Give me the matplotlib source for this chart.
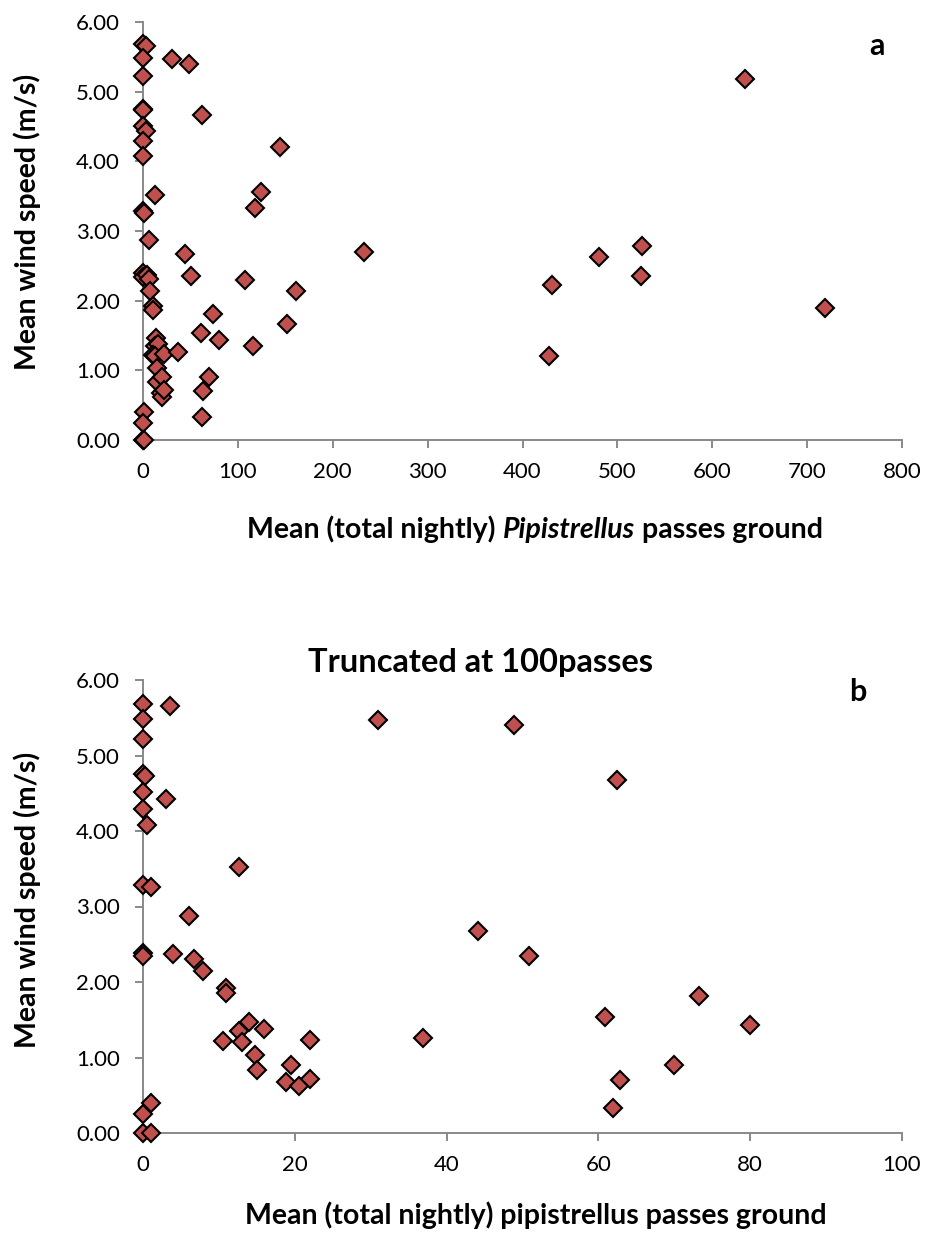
import numpy as np
import matplotlib
matplotlib.use("Agg")
import matplotlib.pyplot as plt
from matplotlib.ticker import FormatStrFormatter

# mean total nightly Pipistrellus passes (ground) and mean wind speed (m/s)
passes = [0, 3.6, 0, 0, 0, 0.3, 0, 3.0, 0, 0.5,
          12.7, 0, 1.0, 6.0, 0, 0, 4.0, 6.7, 7.9, 10.9,
          10.9, 13.9, 12.7, 15.9, 10.5, 13.0, 22.0, 14.7, 15.0, 19.5,
          18.8, 20.5, 22.0, 1.0, 0, 0, 1.0, 30.9, 48.9, 62.4,
          44.2, 50.9, 73.3, 60.9, 36.9, 69.9, 62.9, 61.9, 80.0,
          107.5, 115.6, 118.0, 124.3, 144.4, 151.4, 160.9, 233.0,
          427.8, 431.4, 480.8, 524.4, 526.2, 634.8, 718.7]
wind_speed = [5.68, 5.65, 5.48, 5.22, 4.75, 4.73, 4.51, 4.43, 4.29, 4.08,
              3.52, 3.28, 3.26, 2.87, 2.39, 2.34, 2.37, 2.31, 2.14, 1.92,
              1.86, 1.47, 1.35, 1.38, 1.22, 1.20, 1.23, 1.03, 0.83, 0.90,
              0.67, 0.62, 0.72, 0.40, 0.25, 0.0, 0.0, 5.47, 5.40, 4.67,
              2.67, 2.35, 1.81, 1.54, 1.26, 0.90, 0.70, 0.33, 1.43,
              2.30, 1.35, 3.33, 3.56, 4.21, 1.67, 2.14, 2.70,
              1.20, 2.23, 2.63, 2.36, 2.78, 5.18, 1.89]

TRUNCATE_AT = 100

plt.rcParams['font.family'] = ['Lato', 'DejaVu Sans']

W, H = 927, 1235
AXIS_GREY = '#898989'
MARKER_RED = '#C0504D'
LABEL_SIZE = 20.5


def style_axes(ax, xmax, xstep):
    ax.set_xlim(0, xmax)
    ax.set_ylim(0, 6)
    ax.set_xticks(np.arange(0, xmax + 1, xstep))
    ax.set_yticks(np.arange(0, 6.01, 1))
    ax.yaxis.set_major_formatter(FormatStrFormatter('%.2f'))
    for side in ['top', 'right']:
        ax.spines[side].set_visible(False)
    for side in ['left', 'bottom']:
        ax.spines[side].set_color(AXIS_GREY)
        ax.spines[side].set_linewidth(1.4)
    ax.tick_params(direction='out', length=5.5, width=1.4, color=AXIS_GREY,
                   labelsize=16, labelcolor='black')
    ax.tick_params(axis='x', pad=10)
    ax.tick_params(axis='y', pad=11)


def scatter(ax, x, y):
    ax.plot(x, y, linestyle='none', marker='D', markersize=9.6,
            markerfacecolor=MARKER_RED, markeredgecolor='black',
            markeredgewidth=1.5, clip_on=False, zorder=3)


def mixed_label(fig, x_center_px, baseline_px, parts, size):
    """Bold label with some italic words, centred at x_center_px."""
    r = fig.canvas.get_renderer()
    probe1 = fig.text(0, 0, 'a a', fontsize=size, fontweight='bold')
    probe2 = fig.text(0, 0, 'aa', fontsize=size, fontweight='bold')
    space = probe1.get_window_extent(r).width - probe2.get_window_extent(r).width
    probe1.remove()
    probe2.remove()
    texts = []
    for s, style in parts:
        t = fig.text(0, 1 - baseline_px / H, s, fontsize=size, fontweight='bold',
                     fontstyle=style, va='baseline', ha='left')
        texts.append(t)
    widths = [t.get_window_extent(r).width for t in texts]
    total = sum(widths) + space * (len(texts) - 1)
    x = x_center_px - total / 2
    for t, w in zip(texts, widths):
        t.set_x(x / W)
        x += w + space


fig = plt.figure(figsize=(W / 100, H / 100), dpi=100)
ax_a = fig.add_axes([143 / W, 1 - 440 / H, 759 / W, 418 / H])
ax_b = fig.add_axes([143 / W, 1 - 1133 / H, 759 / W, 453 / H])

# panel a: all sites
style_axes(ax_a, 800, 100)
scatter(ax_a, passes, wind_speed)
fig.text(27 / W, 1 - 222 / H, 'Mean wind speed (m/s)', fontsize=LABEL_SIZE,
         fontweight='bold', rotation=90, ha='center', va='center')
ax_a.text(774, 5.65, 'a', fontsize=22, fontweight='bold', ha='center', va='center')
mixed_label(fig, 535, 538, [('Mean (total nightly)', 'normal'),
                            ('Pipistrellus', 'italic'),
                            ('passes ground', 'normal')], LABEL_SIZE)

# panel b: truncated at 100 passes
px = np.array(passes)
ws = np.array(wind_speed)
keep = px <= TRUNCATE_AT
style_axes(ax_b, 100, 20)
scatter(ax_b, px[keep], ws[keep])
fig.text(27 / W, 1 - 900 / H, 'Mean wind speed (m/s)', fontsize=LABEL_SIZE,
         fontweight='bold', rotation=90, ha='center', va='center')
ax_b.text(94.2, 5.84, 'b', fontsize=22, fontweight='bold', ha='center', va='center')
fig.text(481 / W, 1 - 672 / H, 'Truncated at 100passes', fontsize=23.5,
         fontweight='bold', ha='center', va='baseline')
fig.text(536 / W, 1 - 1224 / H, 'Mean (total nightly) pipistrellus passes ground',
         fontsize=LABEL_SIZE, fontweight='bold', ha='center', va='baseline')

fig.savefig('out.png', dpi=100)
